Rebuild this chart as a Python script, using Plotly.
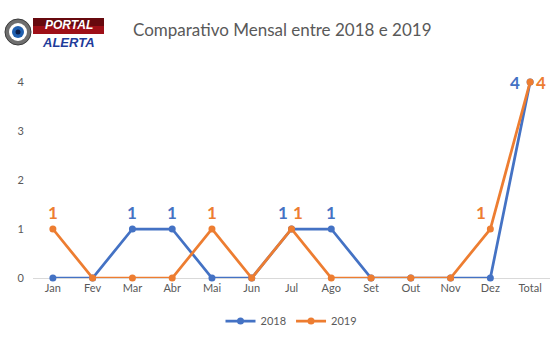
import plotly.graph_objects as go

months = ["Jan", "Fev", "Mar", "Abr", "Mai", "Jun", "Jul", "Ago", "Set", "Out", "Nov", "Dez", "Total"]
s2018 = [0, 0, 1, 1, 0, 0, 1, 1, 0, 0, 0, 0, 4]
s2019 = [1, 0, 0, 0, 1, 0, 1, 0, 0, 0, 0, 1, 4]
title = "Comparativo Mensal entre 2018 e 2019"

BLUE = "#4472C4"
ORANGE = "#ED7D31"
GRAY = "#595959"

W, H = 550, 350
ML, MR, MT, MB = 33, 0, 82, 72

def px(x):
    return (x - ML) / (W - ML - MR)

def py(y):
    return (H - MB - y) / (H - MT - MB)

fig = go.Figure()
fig.add_trace(go.Scatter(x=months, y=s2018, name="2018", mode="lines+markers",
                         line=dict(color=BLUE, width=2.75), marker=dict(size=7, color=BLUE),
                         cliponaxis=False))
fig.add_trace(go.Scatter(x=months, y=s2019, name="2019", mode="lines+markers",
                         line=dict(color=ORANGE, width=2.75), marker=dict(size=7, color=ORANGE),
                         cliponaxis=False))

# data labels (non-zero values only)
shift18 = {6: -9, 12: -15}
shift19 = {6: 6, 11: -9, 12: 11}
ann = []
for i, (m, v) in enumerate(zip(months, s2018)):
    if v:
        xs = shift18.get(i, 0)
        ys = 0 if i == 12 else 17
        ann.append(dict(x=m, y=v, text=str(v), showarrow=False, xshift=xs, yshift=ys,
                        font=dict(color=BLUE, size=17, family="Lato", weight="bold")))
for i, (m, v) in enumerate(zip(months, s2019)):
    if v:
        xs = shift19.get(i, 0)
        ys = 0 if i == 12 else 17
        ann.append(dict(x=m, y=v, text=str(v), showarrow=False, xshift=xs, yshift=ys,
                        font=dict(color=ORANGE, size=17, family="Lato", weight="bold")))

# title
ann.append(dict(xref="paper", yref="paper", x=px(282), y=py(30), text=title, showarrow=False,
                xanchor="center", yanchor="middle",
                font=dict(family="Lato", size=17, color=GRAY)))

# logo texts
ann.append(dict(xref="paper", yref="paper", x=px(69), y=py(25), text="PORTAL", showarrow=False,
                xanchor="center", yanchor="middle",
                font=dict(family="Liberation Sans", size=12, color="white", weight="bold", style="italic")))
ann.append(dict(xref="paper", yref="paper", x=px(68), y=py(42), text="ALERTA", showarrow=False,
                xanchor="center", yanchor="middle",
                font=dict(family="Liberation Sans", size=13, color="#1F3C9A", weight="bold", style="italic")))

shapes = [
    # banner behind PORTAL
    dict(type="rect", xref="paper", yref="paper", x0=px(33), x1=px(104), y0=py(34), y1=py(18),
         fillcolor="#9E0F17", line=dict(width=0), layer="above"),
    dict(type="rect", xref="paper", yref="paper", x0=px(33), x1=px(104), y0=py(26), y1=py(18),
         fillcolor="#3A0508", line=dict(width=0), layer="above", opacity=0.55),
    # eye
    dict(type="circle", xref="paper", yref="paper", x0=px(5), x1=px(31), y0=py(45), y1=py(19),
         fillcolor="#6E6E6E", line=dict(color="#3A3A3A", width=1), layer="above"),
    dict(type="circle", xref="paper", yref="paper", x0=px(9), x1=px(27), y0=py(41), y1=py(23),
         fillcolor="white", line=dict(width=0), layer="above"),
    dict(type="circle", xref="paper", yref="paper", x0=px(12), x1=px(24), y0=py(38), y1=py(26),
         fillcolor="#1F5FAF", line=dict(width=0), layer="above"),
    dict(type="circle", xref="paper", yref="paper", x0=px(15.5), x1=px(20.5), y0=py(34.5), y1=py(29.5),
         fillcolor="#0B1E4A", line=dict(width=0), layer="above"),
]
fig.update_layout(annotations=ann, shapes=shapes)

fig.update_layout(
    width=W, height=H,
    margin=dict(l=ML, r=MR, t=MT, b=MB, pad=0),
    paper_bgcolor="white", plot_bgcolor="white",
    font=dict(family="Lato", color=GRAY, size=11),
    showlegend=True,
    legend=dict(orientation="h", x=0.5, xanchor="center", y=py(321), yanchor="middle",
                font=dict(size=11, color=GRAY, family="Lato")),
    xaxis=dict(type="category", range=[-0.5, 12.5], showgrid=False, showline=True,
               linecolor="#D9D9D9", linewidth=1, ticks="", zeroline=False,
               tickfont=dict(size=11, color=GRAY), layer="below traces"),
    yaxis=dict(range=[0, 4], showgrid=False, zeroline=False, showline=False,
               tickvals=[0, 1, 2, 3, 4], ticks="", ticklabelstandoff=8,
               tickfont=dict(size=11, color=GRAY)),
)

fig.write_html("out.html")
